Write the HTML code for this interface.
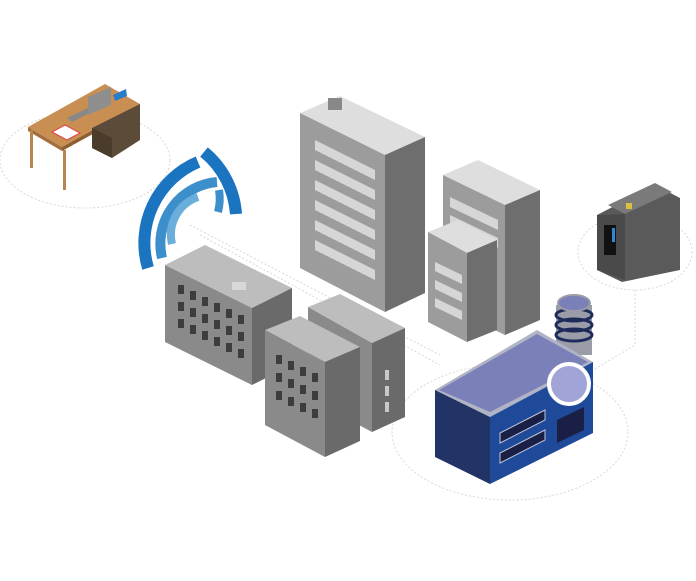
<!DOCTYPE html>
<html><head><style>html,body{margin:0;padding:0;background:#fff;width:696px;height:581px;overflow:hidden}</style></head>
<body>
<svg width="696" height="581" viewBox="0 0 696 581" xmlns="http://www.w3.org/2000/svg">
<g fill="none" stroke="#d8d8d8" stroke-width="1" stroke-dasharray="2,2">
<ellipse cx="85" cy="160" rx="85" ry="48"/>
<ellipse cx="635" cy="252" rx="57" ry="38"/>
<ellipse cx="510" cy="432" rx="118" ry="68"/>
<path d="M190 225 L440 355 M200 235 L440 365"/>
<path d="M635 290 L635 345 L590 372"/>
</g>
<!-- desk -->
<polygon points="28,127 105,84 140,104 62,147" fill="#c98f52"/>
<polygon points="28,127 62,147 62,151 28,131" fill="#a36f3a"/>
<polygon points="62,147 140,104 140,108 62,151" fill="#8d5f30"/>
<rect x="30" y="130" width="3" height="38" fill="#b8854e"/>
<rect x="63" y="150" width="3" height="40" fill="#b8854e"/>
<polygon points="92,128 140,104 140,140 112,158 92,148" fill="#5b4b38"/>
<polygon points="92,128 112,138 112,158 92,148" fill="#4a3b2a"/>
<polygon points="52,132 65,125 80,133 67,140" fill="#fff" stroke="#d44" stroke-width="1"/>
<polygon points="67,118 88,108 93,111 72,122" fill="#888"/>
<polygon points="88,97 111,87 111,105 88,115" fill="#8e8e8e"/>
<polygon points="113,95 126,89 127,96 115,101" fill="#2a7cc7"/>
<!-- wifi -->
<g fill="none" stroke-linecap="butt">
<path d="M148 268 A88 88 0 0 1 198 162" stroke="#1a74c0" stroke-width="12"/>
<path d="M204 152 A88 88 0 0 1 236 214" stroke="#1a74c0" stroke-width="12"/>
<path d="M162 258 A62 62 0 0 1 217 182" stroke="#3d8fcc" stroke-width="10"/>
<path d="M219 190 A30 40 0 0 1 218 212" stroke="#3d8fcc" stroke-width="8"/>
<path d="M172 244 A40 40 0 0 1 198 197" stroke="#6aaedc" stroke-width="8"/>
</g>
<!-- tall tower -->
<polygon points="300,113 340,96 425,137 385,155" fill="#dedede"/>
<polygon points="300,113 385,155 385,312 300,268" fill="#9c9c9c"/>
<polygon points="385,155 425,137 425,293 385,312" fill="#6e6e6e"/>
<rect x="328" y="98" width="14" height="12" fill="#888"/>
<g fill="#d6d6d6">
<polygon points="315,140 375,170 375,180 315,150"/><polygon points="315,160 375,190 375,200 315,170"/>
<polygon points="315,180 375,210 375,220 315,190"/><polygon points="315,200 375,230 375,240 315,210"/>
<polygon points="315,220 375,250 375,260 315,230"/><polygon points="315,240 375,270 375,280 315,250"/>
</g>
<!-- right back building -->
<polygon points="443,175 478,160 540,190 505,205" fill="#dedede"/>
<polygon points="443,175 505,205 505,335 443,305" fill="#9c9c9c"/>
<polygon points="505,205 540,190 540,320 505,335" fill="#6e6e6e"/>
<g fill="#d6d6d6"><polygon points="450,197 498,220 498,230 450,207"/><polygon points="450,215 498,238 498,248 450,225"/></g>
<polygon points="428,232 458,220 497,240 467,253" fill="#dedede"/>
<polygon points="428,232 467,253 467,342 428,322" fill="#9c9c9c"/>
<polygon points="467,253 497,240 497,330 467,342" fill="#6e6e6e"/>
<g fill="#d6d6d6"><polygon points="435,262 462,275 462,284 435,271"/><polygon points="435,280 462,293 462,302 435,289"/><polygon points="435,298 462,311 462,320 435,307"/></g>
<!-- left building A -->
<polygon points="165,265 205,245 292,288 252,308" fill="#bdbdbd"/>
<polygon points="165,265 252,308 252,385 165,342" fill="#8a8a8a"/>
<polygon points="252,308 292,288 292,365 252,385" fill="#6a6a6a"/>
<rect x="232" y="282" width="14" height="8" fill="#d8d8d8"/>
<g fill="#3d3d3d">
<rect x="178" y="285" width="6" height="9"/><rect x="190" y="291" width="6" height="9"/><rect x="202" y="297" width="6" height="9"/><rect x="214" y="303" width="6" height="9"/><rect x="226" y="309" width="6" height="9"/><rect x="238" y="315" width="6" height="9"/>
<rect x="178" y="302" width="6" height="9"/><rect x="190" y="308" width="6" height="9"/><rect x="202" y="314" width="6" height="9"/><rect x="214" y="320" width="6" height="9"/><rect x="226" y="326" width="6" height="9"/><rect x="238" y="332" width="6" height="9"/>
<rect x="178" y="319" width="6" height="9"/><rect x="190" y="325" width="6" height="9"/><rect x="202" y="331" width="6" height="9"/><rect x="214" y="337" width="6" height="9"/><rect x="226" y="343" width="6" height="9"/><rect x="238" y="349" width="6" height="9"/>
</g>
<!-- building C -->
<polygon points="308,307 340,294 405,328 372,343" fill="#bdbdbd"/>
<polygon points="308,307 372,343 372,432 308,398" fill="#8a8a8a"/>
<polygon points="372,343 405,328 405,417 372,432" fill="#6a6a6a"/>
<g fill="#c8c8c8"><rect x="385" y="370" width="4" height="10"/><rect x="385" y="386" width="4" height="10"/><rect x="385" y="402" width="4" height="10"/></g>
<!-- building B -->
<polygon points="265,330 300,316 360,347 325,362" fill="#bdbdbd"/>
<polygon points="265,330 325,362 325,457 265,425" fill="#8a8a8a"/>
<polygon points="325,362 360,347 360,441 325,457" fill="#6a6a6a"/>
<g fill="#3d3d3d">
<rect x="276" y="355" width="6" height="9"/><rect x="288" y="361" width="6" height="9"/><rect x="300" y="367" width="6" height="9"/><rect x="312" y="373" width="6" height="9"/>
<rect x="276" y="373" width="6" height="9"/><rect x="288" y="379" width="6" height="9"/><rect x="300" y="385" width="6" height="9"/><rect x="312" y="391" width="6" height="9"/>
<rect x="276" y="391" width="6" height="9"/><rect x="288" y="397" width="6" height="9"/><rect x="300" y="403" width="6" height="9"/><rect x="312" y="409" width="6" height="9"/>
</g>
<!-- chimney -->
<rect x="556" y="305" width="36" height="50" fill="#9a9ca8"/>
<ellipse cx="574" cy="335" rx="18" ry="6" fill="none" stroke="#1e2b5a" stroke-width="3"/>
<ellipse cx="574" cy="325" rx="18" ry="6" fill="none" stroke="#1e2b5a" stroke-width="3"/>
<ellipse cx="574" cy="315" rx="18" ry="6" fill="none" stroke="#1e2b5a" stroke-width="3"/>
<ellipse cx="574" cy="303" rx="16" ry="8" fill="#7b80b8" stroke="#9a9ca8" stroke-width="2"/>
<!-- factory -->
<polygon points="435,390 537,330 593,362 490,417" fill="#b0b4c4"/>
<polygon points="439,390 537,334 588,362 490,412" fill="#7b80b8"/>
<polygon points="435,390 490,417 490,484 435,457" fill="#223366"/>
<polygon points="490,417 593,362 593,433 490,484" fill="#1f4a9a"/>
<polygon points="500,433 545,410 545,420 500,443" fill="#1a1f45" stroke="#c0c4d8" stroke-width="1"/>
<polygon points="500,453 545,430 545,440 500,463" fill="#1a1f45" stroke="#c0c4d8" stroke-width="1"/>
<polygon points="557,420 584,407 584,430 557,443" fill="#1a1f45"/>
<circle cx="569" cy="384" r="20" fill="#a0a4d6" stroke="#fff" stroke-width="4"/>
<!-- router -->
<polygon points="597,215 655,185 680,198 680,270 622,282 597,270" fill="#5a5a5a"/>
<polygon points="608,205 655,183 672,192 625,214" fill="#7a7a7a"/>
<polygon points="597,215 625,214 625,280 597,270" fill="#4a4a4a"/>
<rect x="604" y="225" width="12" height="30" fill="#111"/>
<rect x="612" y="228" width="3" height="14" fill="#2a8ad8"/>
<rect x="626" y="203" width="6" height="6" fill="#d8c040"/>
</svg>
</body></html>
